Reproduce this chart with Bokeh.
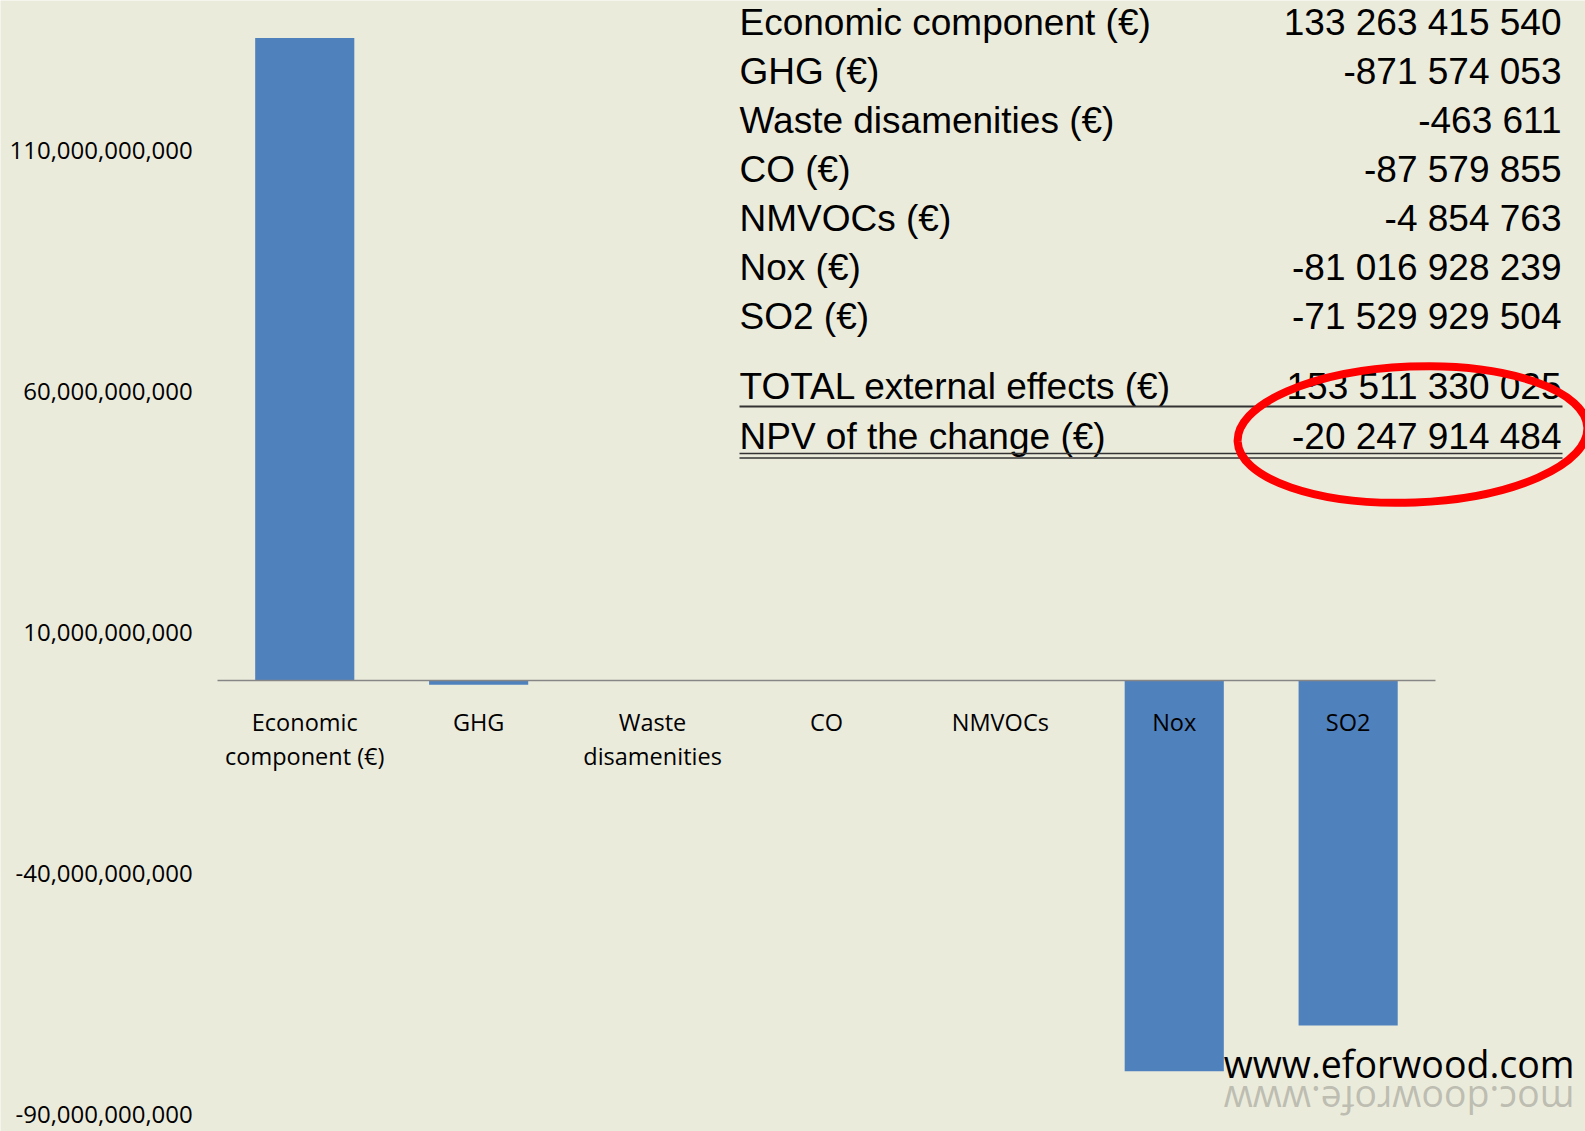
import numpy as np
from bokeh.plotting import figure
from bokeh.models import Range1d, LinearAxis, FixedTicker, NumeralTickFormatter
from bokeh.core.properties import value
from bokeh.embed import file_html
from bokeh.resources import INLINE

# ---------------- data ----------------
categories = ["Economic\ncomponent (€)", "GHG", "Waste\ndisamenities", "CO",
              "NMVOCs", "Nox", "SO2"]
values = [133263415540, -871574053, -463611, -87579855, -4854763,
          -81016928239, -71529929504]
y_ticks = [-90e9, -40e9, 10e9, 60e9, 110e9]

table_labels = ["Economic component (€)", "GHG (€)", "Waste disamenities (€)",
                "CO (€)", "NMVOCs (€)", "Nox (€)", "SO2 (€)",
                "TOTAL external effects (€)", "NPV of the change (€)"]
table_values = ["133 263 415 540", "-871 574 053", "-463 611", "-87 579 855",
                "-4 854 763", "-81 016 928 239", "-71 529 929 504",
                "153 511 330 025", "-20 247 914 484"]
watermark = "www.eforwood.com"

# ---------------- layout helpers ----------------
W, H = 1585, 1131
BG = "#EBEBDC"
BAR = "#4F81BD"
X0, CW = 217.3, 173.9          # pixel left edge of first category, category width
Y0, PPU = 680.0, 241.1 / 50e9  # pixel of zero line, pixels per unit

x_start = -0.5 - X0 / CW
x_end = x_start + W / CW
y_end = Y0 / PPU
y_start = -(H - Y0) / PPU


def sx(px):
    return x_start + px / CW


def sy(py):
    return y_end - py / PPU


p = figure(width=W, height=H, x_range=Range1d(x_start, x_end),
           y_range=Range1d(y_start, y_end), output_backend="svg",
           toolbar_location=None, x_axis_location=None, y_axis_location=None,
           min_border=0, min_border_left=0, min_border_right=0,
           min_border_top=0, min_border_bottom=0,
           background_fill_color=BG, border_fill_color=BG,
           outline_line_color=None)
p.grid.visible = False

idx = list(range(len(categories)))
p.vbar(x=idx, top=values, bottom=0, width=0.57, fill_color=BAR, line_color=None)

xaxis = LinearAxis(fixed_location=0, bounds=(-0.5, len(categories) - 0.5),
                   ticker=FixedTicker(ticks=idx),
                   major_label_overrides={i: c for i, c in enumerate(categories)},
                   axis_line_color="#868686", axis_line_width=1.5,
                   major_tick_line_color=None, minor_tick_line_color=None,
                   major_tick_out=0, major_tick_in=0,
                   major_label_standoff=25,
                   major_label_text_font="Open Sans",
                   major_label_text_font_size="23.5px",
                   major_label_text_line_height=1.08,
                   major_label_text_color="black")
p.add_layout(xaxis, "below")

yaxis = LinearAxis(fixed_location=-0.5, ticker=FixedTicker(ticks=y_ticks),
                   formatter=NumeralTickFormatter(format="0,0"),
                   axis_line_color=None, major_tick_line_color=None,
                   minor_tick_line_color=None, major_tick_out=0, major_tick_in=0,
                   major_label_standoff=25,
                   major_label_text_font="Open Sans",
                   major_label_text_font_size="24px",
                   major_label_text_color="black")
p.add_layout(yaxis, "left")

# ---------------- table ----------------
row_px = [22.2 + i * 49.0 for i in range(7)] + [386.1, 435.7]
ys = [sy(r) for r in row_px]
p.text(x=[sx(739)] * len(table_labels), y=ys, text=table_labels,
       text_font=value("Liberation Sans"), text_font_size="37px",
       text_baseline="middle", text_align="left", text_color="black")
p.text(x=[sx(1561)] * len(table_values), y=ys, text=table_values,
       text_font=value("Liberation Sans"), text_font_size="37px",
       text_baseline="middle", text_align="right", text_color="black")

line_y = [sy(406), sy(453), sy(457.5)]
p.segment(x0=[sx(739)] * 3, y0=line_y, x1=[sx(1562)] * 3, y1=line_y,
          line_color="#333333", line_width=[2, 1.6, 1.6])

p.ellipse(x=[sx(1412)], y=[sy(434)], width=[350], height=[136],
          width_units="screen", height_units="screen", angle=0.04,
          fill_color=None, line_color="#FF0000", line_width=8)

# ---------------- watermark ----------------
p.text(x=[sx(1574)], y=[sy(1063)], text=[watermark],
       text_font=value("Open Sans"), text_font_size="37.5px",
       text_baseline="middle", text_align="right", text_color="black")
p.text(x=[sx(1574)], y=[sy(1100)], text=[watermark[::-1]], angle=np.pi,
       text_font=value("Open Sans"), text_font_size="37.5px",
       text_baseline="middle", text_align="left", text_color="#8F8F86",
       text_alpha=0.5)

open("out.html", "w").write(file_html(p, INLINE))
